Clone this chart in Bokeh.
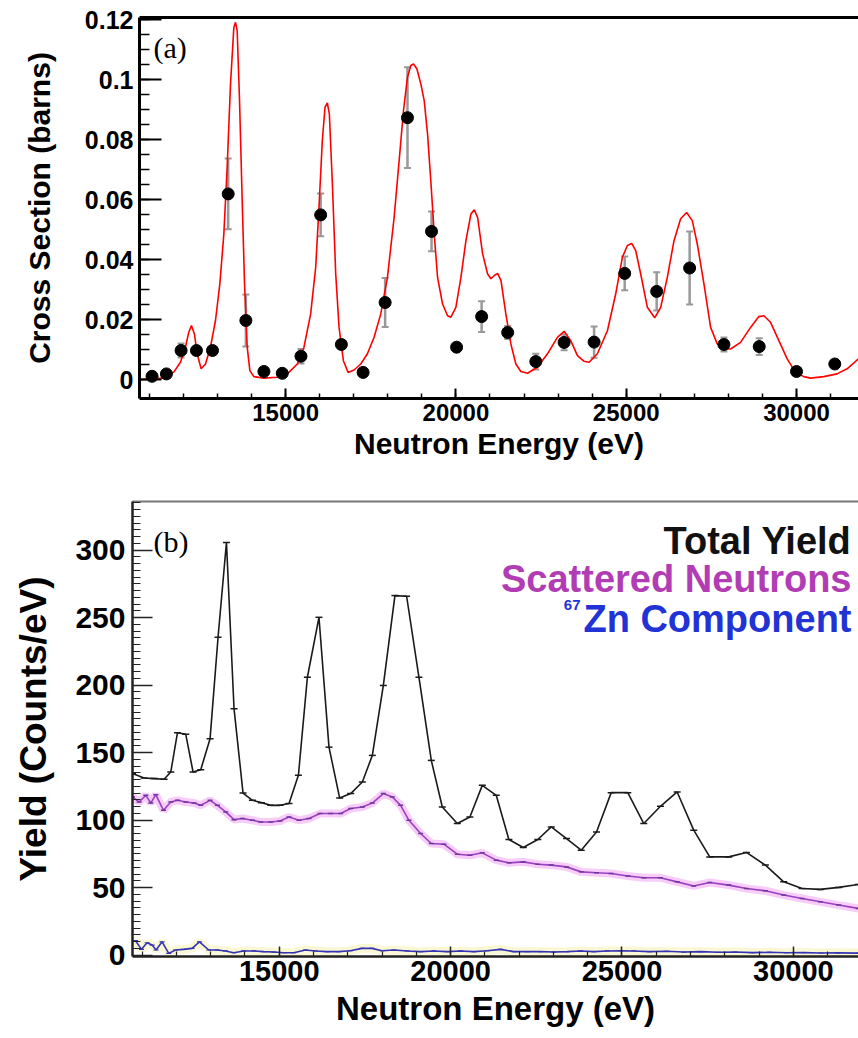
from bokeh.plotting import figure
from bokeh.models import (LinearAxis, FixedTicker, CustomJSTickFormatter, Label,
                          Whisker, TeeHead, ColumnDataSource, Range1d)
from bokeh.embed import file_html
from bokeh.resources import INLINE

# ---------------- Panel (a): cross section ----------------
xs_energy = [11078, 11500, 11931, 12382, 12853, 13314, 13833, 14363, 14902, 15451,
             16029, 16637, 17275, 17922, 18578, 19284, 20020, 20755, 21520, 22346,
             23177, 24057, 24956, 25894, 26862, 27869, 28905, 30000, 31124]
xs_sigma = [0.0012, 0.0020, 0.0098, 0.0098, 0.0098, 0.0620, 0.0198, 0.0028, 0.0022, 0.0079,
            0.0550, 0.0118, 0.0025, 0.0258, 0.0874, 0.0495, 0.0109, 0.0211, 0.0158, 0.0061,
            0.0125, 0.0126, 0.0355, 0.0295, 0.0373, 0.0118, 0.0111, 0.0028, 0.0053]
xs_err = [0.0005, 0.0005, 0.0023, 0.0010, 0.0010, 0.0118, 0.0087, 0.0005, 0.0005, 0.0024,
          0.0071, 0.0014, 0.0005, 0.0082, 0.0168, 0.0066, 0.0013, 0.0051, 0.0022, 0.0026,
          0.0026, 0.0052, 0.0056, 0.0064, 0.0122, 0.0023, 0.0028, 0.0005, 0.0005]

fit_energy = [10735, 11421, 11716, 11912, 12059, 12157, 12235, 12323, 12402, 12520,
              12647, 12794, 12941, 13069, 13186, 13284, 13382, 13480, 13529, 13578,
              13647, 13725, 13794, 13872, 13951, 14068, 14363, 14755, 15049, 15343,
              15539, 15735, 15883, 15980, 16078, 16157, 16225, 16284, 16373, 16471,
              16569, 16696, 16834, 17010, 17206, 17402, 17598, 17794, 17990, 18186,
              18333, 18461, 18578, 18676, 18755, 18853, 18971, 19069, 19167, 19265,
              19363, 19461, 19608, 19755, 19853, 19999, 20147, 20294, 20441, 20539,
              20637, 20784, 20931, 21029, 21127, 21225, 21324, 21466, 21613, 21760,
              21906, 22102, 22395, 22688, 22981, 23177, 23372, 23568, 23763, 23910,
              24154, 24448, 24692, 24888, 25034, 25161, 25279, 25425, 25621, 25836,
              26012, 26207, 26403, 26598, 26774, 26940, 27087, 27282, 27478, 27673,
              27869, 28064, 28358, 28651, 28895, 29042, 29237, 29482, 29726, 29971,
              30215, 30411, 30802, 31192, 31486, 31818]
fit_sigma = [0.0001, 0.0006, 0.0026, 0.0059, 0.0109, 0.0159, 0.0181, 0.0153, 0.0087, 0.0037,
             0.0053, 0.0109, 0.0198, 0.0320, 0.0486, 0.0709, 0.0986, 0.1175, 0.1192, 0.1164,
             0.0931, 0.0598, 0.0320, 0.0109, 0.0031, 0.0011, 0.0006, 0.0009, 0.0020, 0.0053,
             0.0109, 0.0220, 0.0375, 0.0575, 0.0798, 0.0909, 0.0923, 0.0887, 0.0653, 0.0353,
             0.0175, 0.0064, 0.0025, 0.0033, 0.0053, 0.0087, 0.0142, 0.0220, 0.0342, 0.0542,
             0.0731, 0.0898, 0.1009, 0.1048, 0.1053, 0.1037, 0.0986, 0.0931, 0.0820, 0.0660,
             0.0486, 0.0342, 0.0253, 0.0214, 0.0209, 0.0242, 0.0342, 0.0464, 0.0553, 0.0567,
             0.0542, 0.0420, 0.0353, 0.0337, 0.0348, 0.0355, 0.0331, 0.0220, 0.0120, 0.0053,
             0.0028, 0.0022, 0.0042, 0.0087, 0.0142, 0.0162, 0.0131, 0.0081, 0.0062, 0.0059,
             0.0087, 0.0164, 0.0287, 0.0409, 0.0448, 0.0455, 0.0431, 0.0353, 0.0242, 0.0207,
             0.0242, 0.0342, 0.0464, 0.0537, 0.0558, 0.0531, 0.0453, 0.0320, 0.0175, 0.0120,
             0.0103, 0.0103, 0.0125, 0.0175, 0.0211, 0.0214, 0.0192, 0.0131, 0.0070, 0.0025,
             0.0011, 0.0006, 0.0011, 0.0020, 0.0037, 0.0070]

a_yticks = [0, 0.02, 0.04, 0.06, 0.08, 0.10, 0.12]
a_yminor = [0.005 * i for i in range(0, 25)]
e_ticks = [15000, 20000, 25000, 30000]
e_minor = list(range(11000, 32000, 1000))

# ---------------- Panel (b): yields ----------------
total_energy = [10720, 11058, 11350, 11641, 11837, 12032, 12274, 12487, 12711, 12983,
                13216, 13461, 13682, 13945, 14219, 14481, 14752, 15023, 15286, 15560,
                15822, 16160, 16452, 16764, 17085, 17426, 17717, 18038, 18376, 18717,
                19076, 19437, 19758, 20195, 20563, 20924, 21332, 21700, 22120, 22545,
                22936, 23382, 23810, 24257, 24685, 25169, 25636, 26122, 26609, 27093,
                27560, 28114, 28630, 29184, 29718, 30254, 30787, 31321, 31895]
total_yield = [134.4, 131.1, 130.7, 130.2, 135.6, 164.7, 163.5, 135.6, 137.3, 160.3,
               235.4, 305.7, 182.5, 120.0, 114.6, 112.9, 110.9, 110.9, 112.2, 133.1,
               205.8, 250.2, 154.0, 116.3, 119.6, 128.2, 147.9, 199.7, 266.3, 265.8,
               205.8, 144.2, 109.7, 97.4, 102.3, 125.7, 118.3, 85.6, 79.7, 85.6,
               94.9, 86.3, 77.7, 91.2, 120.3, 120.3, 97.4, 110.2, 120.8, 92.5,
               72.7, 72.7, 76.0, 66.6, 54.2, 49.3, 48.6, 50.1, 52.3]

scat_energy = [10720, 10913, 11108, 11254, 11399, 11624, 11837, 12032, 12274, 12516,
               12711, 12983, 13198, 13440, 13682, 13927, 14219, 14461, 14752, 15023,
               15286, 15577, 15869, 16190, 16501, 16793, 17085, 17426, 17717, 18038,
               18300, 18542, 18784, 19125, 19437, 19805, 20195, 20563, 20924, 21332,
               21700, 22120, 22545, 22936, 23382, 23810, 24257, 24685, 25169, 25636,
               26122, 26609, 27093, 27560, 28114, 28630, 29184, 29718, 30254, 30787,
               31321, 31895]
scat_yield = [117.0, 113.4, 118.3, 112.6, 118.8, 107.2, 113.4, 114.6, 113.4, 112.6,
              110.9, 114.6, 110.9, 106.0, 100.3, 101.1, 99.8, 98.6, 98.6, 99.3,
              102.3, 99.8, 101.1, 104.8, 104.8, 104.8, 108.5, 109.7, 112.6, 119.6,
              117.1, 110.9, 99.8, 90.0, 82.6, 82.1, 74.7, 73.9, 75.7, 70.3,
              68.3, 69.0, 67.3, 66.6, 65.3, 61.6, 60.9, 60.4, 58.6, 57.2,
              57.2, 54.2, 51.2, 53.7, 51.8, 49.3, 47.6, 44.4, 41.9, 39.4,
              37.0, 34.5]

zn_energy = [10808, 10983, 11146, 11292, 11408, 11583, 11778, 11974, 12216, 12458,
             12673, 12945, 13187, 13431, 13673, 13965, 14257, 14548, 14840, 15131,
             15423, 15764, 16055, 16394, 16735, 17076, 17414, 17706, 17997, 18347,
             18738, 19125, 19513, 19904, 20292, 20679, 21070, 21458, 21846, 22236,
             22624, 23012, 23402, 23790, 24178, 24569, 24956, 25344, 25800, 26300,
             26800, 27300, 27800, 28300, 28800, 29300, 29800, 30300, 30800, 31300,
             31900]
zn_yield = [10.6, 4.2, 9.1, 7.4, 3.7, 9.8, 1.2, 3.7, 4.2, 4.9,
            9.8, 3.7, 3.7, 3.0, 1.7, 3.0, 3.0, 2.5, 2.2, 1.7,
            1.7, 3.7, 3.0, 2.5, 2.5, 3.2, 4.9, 4.9, 3.2, 3.7,
            3.0, 2.5, 3.0, 2.5, 3.0, 2.5, 3.2, 4.2, 2.5, 2.5,
            2.5, 2.2, 2.5, 3.0, 2.5, 3.0, 3.2, 3.0, 2.5, 2.8,
            2.2, 2.5, 2.0, 2.2, 1.8, 2.0, 1.7, 1.8, 1.5, 1.6,
            1.4]

b_yticks = [0, 50, 100, 150, 200, 250, 300]
b_yminor = list(range(0, 340, 5))

legend_texts = ["Total Yield", "Scattered Neutrons", "Zn Component"]
legend_colors = ["#111111", "#b23cb4", "#2233d6"]

FONT = "Liberation Sans"


def style_axis(ax, tick_size, label_size, tick_standoff, label_standoff,
               major_in, minor_in, line_w, color="black", tick_w=2, minor_w=1.5):
    ax.axis_line_width = line_w
    ax.axis_line_color = color
    ax.major_tick_in = major_in
    ax.major_tick_out = 0
    ax.minor_tick_in = minor_in
    ax.minor_tick_out = 0
    ax.major_tick_line_width = tick_w
    ax.minor_tick_line_width = minor_w
    ax.major_tick_line_color = color
    ax.minor_tick_line_color = color
    ax.major_label_text_font = FONT
    ax.major_label_text_font_style = "bold"
    ax.major_label_text_font_size = f"{tick_size}px"
    ax.major_label_text_color = "black"
    ax.major_label_standoff = tick_standoff
    ax.axis_label_text_font = FONT
    ax.axis_label_text_font_style = "bold"
    ax.axis_label_text_font_size = f"{label_size}px"
    ax.axis_label_text_color = "black"
    ax.axis_label_standoff = label_standoff


def top_line(p, color, width):
    ax = LinearAxis(ticker=FixedTicker(ticks=[]), major_label_text_font_size="0px",
                    axis_line_color=color, axis_line_width=width,
                    major_tick_in=0, major_tick_out=0, minor_tick_in=0, minor_tick_out=0)
    p.add_layout(ax, "above")


# ---------- figure (a) ----------
p1 = figure(width=858, height=480, x_range=Range1d(10710, 31820),
            y_range=Range1d(-0.0062, 0.1208), output_backend="svg",
            toolbar_location=None, min_border_left=139, min_border_right=0,
            min_border_top=17, min_border_bottom=82)
p1.xgrid.visible = False
p1.ygrid.visible = False
p1.outline_line_color = None
p1.background_fill_color = "white"
p1.border_fill_color = "white"

p1.xaxis.ticker = FixedTicker(ticks=e_ticks, minor_ticks=e_minor)
p1.yaxis.ticker = FixedTicker(ticks=a_yticks, minor_ticks=a_yminor)
p1.yaxis.formatter = CustomJSTickFormatter(
    code="return tick.toFixed(2).replace(/\\.?0+$/, '');")
p1.xaxis.axis_label = "Neutron Energy (eV)"
p1.yaxis.axis_label = "Cross Section (barns)"
style_axis(p1.xaxis[0], 24, 30, 5, 3, 10, 5, 3)
style_axis(p1.yaxis[0], 25, 30, 6, 26, 22, 10, 3)
top_line(p1, "black", 3)

p1.line(fit_energy, fit_sigma, line_color="#ff0000", line_width=1.6)

src = ColumnDataSource(dict(
    x=xs_energy, y=xs_sigma,
    hi=[s + e for s, e in zip(xs_sigma, xs_err)],
    lo=[s - e for s, e in zip(xs_sigma, xs_err)]))
wh = Whisker(source=src, base="x", upper="hi", lower="lo", dimension="height",
             line_color="#999999", line_width=2.5,
             upper_head=TeeHead(size=7, line_color="#999999", line_width=2),
             lower_head=TeeHead(size=7, line_color="#999999", line_width=2))
p1.add_layout(wh)
p1.scatter("x", "y", source=src, size=12, fill_color="black", line_color="black")

p1.add_layout(Label(x=14, y=351, x_units="screen", y_units="screen", text="(a)",
                    text_font="Liberation Serif", text_font_size="30px",
                    text_baseline="middle", text_align="left", text_color="black"))

# ---------- figure (b) ----------
p2 = figure(width=858, height=558, x_range=Range1d(10720, 31900),
            y_range=Range1d(-1.1, 336), output_backend="svg",
            toolbar_location=None, min_border_left=132, min_border_right=0,
            min_border_top=21, min_border_bottom=82)
p2.xgrid.visible = False
p2.ygrid.visible = False
p2.outline_line_color = None
p2.background_fill_color = "white"
p2.border_fill_color = "white"

p2.xaxis.ticker = FixedTicker(ticks=e_ticks, minor_ticks=e_minor)
p2.yaxis.ticker = FixedTicker(ticks=b_yticks, minor_ticks=b_yminor)
p2.xaxis.axis_label = "Neutron Energy (eV)"
p2.yaxis.axis_label = "Yield (Counts/eV)"
style_axis(p2.xaxis[0], 29, 33, 4, 6, 10, 5, 2.5, color="#222222", tick_w=1.5, minor_w=1.2)
style_axis(p2.yaxis[0], 30, 37, 7, 18, 20, 8, 2.5, color="#222222", tick_w=1.5, minor_w=1.2)
top_line(p2, "#777777", 2)

# 67Zn component (with pale glow)
p2.line(zn_energy, zn_yield, line_color="#f2eea0", line_width=9, line_alpha=0.45)
p2.line(zn_energy, zn_yield, line_color="#3434b4", line_width=1.6)
p2.scatter(zn_energy, zn_yield, marker="dash", size=5, line_color="#3434b4", line_width=1.2)

# scattered neutrons (magenta band)
p2.line(scat_energy, scat_yield, line_color="#ee80ee", line_width=8, line_alpha=0.4)
p2.line(scat_energy, scat_yield, line_color="#9a40c0", line_width=1.6)
p2.scatter(scat_energy, scat_yield, marker="dash", size=5, line_color="#6a3a9a", line_width=1.5)

# total yield
p2.line(total_energy, total_yield, line_color="#1a1a1a", line_width=1.6)
p2.scatter(total_energy, total_yield, marker="dash", size=7, line_color="#1a1a1a", line_width=1.5)

p2.add_layout(Label(x=21, y=415, x_units="screen", y_units="screen", text="(b)",
                    text_font="Liberation Serif", text_font_size="30px",
                    text_baseline="middle", text_align="left", text_color="black"))

leg_y = [416, 378, 338]
for t, c, yy in zip(legend_texts, legend_colors, leg_y):
    p2.add_layout(Label(x=719, y=yy, x_units="screen", y_units="screen", text=t,
                        text_font=FONT, text_font_style="bold", text_font_size="38px",
                        text_align="right", text_baseline="alphabetic", text_color=c))
p2.add_layout(Label(x=448, y=352, x_units="screen", y_units="screen", text="67",
                    text_font=FONT, text_font_style="bold", text_font_size="15px",
                    text_align="right", text_baseline="alphabetic", text_color=legend_colors[2]))

open("out.html", "w").write(file_html([p1, p2], INLINE))
